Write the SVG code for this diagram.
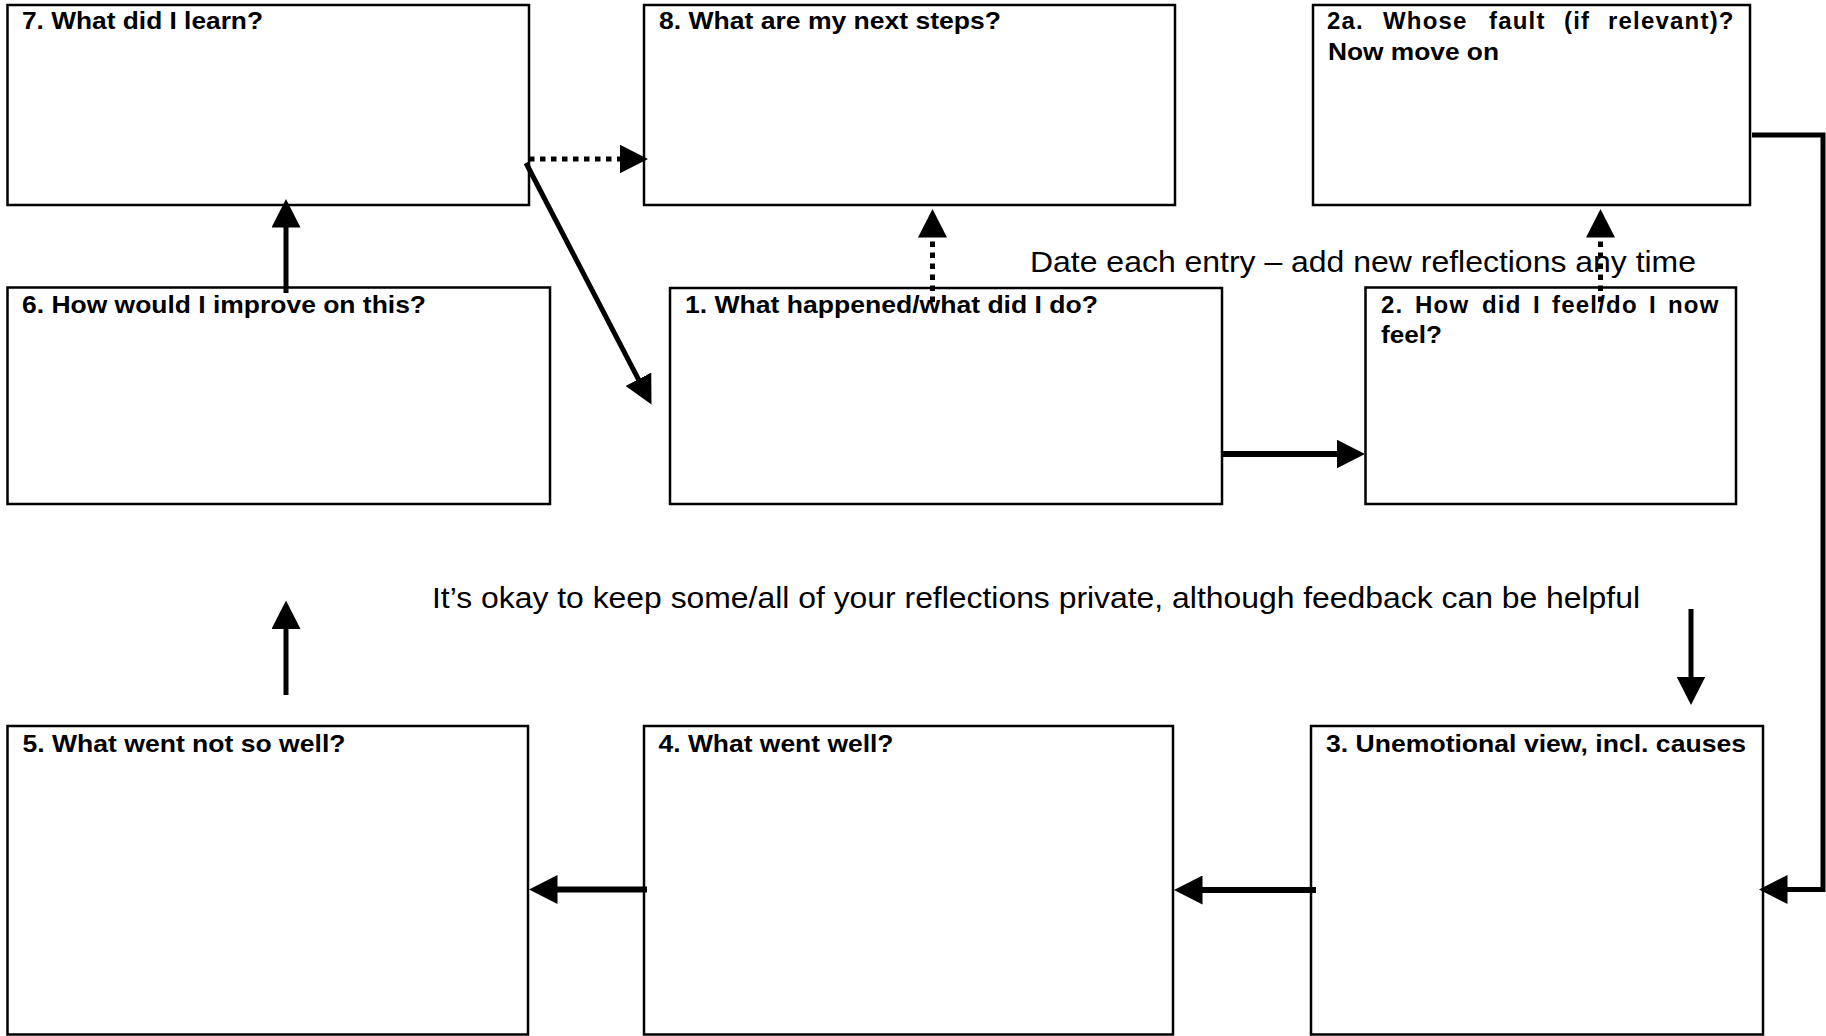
<svg xmlns="http://www.w3.org/2000/svg" width="1826" height="1036" viewBox="0 0 1826 1036">
  <style>
    .box { fill: #ffffff; stroke: #000000; stroke-width: 2.5; }
    .title { font-family: "Liberation Sans", Arial, sans-serif; font-weight: bold; font-size: 24px; fill: #000000; }
    .just { letter-spacing: 1.2px; }
    .note { font-family: "Liberation Sans", Arial, sans-serif; font-size: 29px; fill: #000000; }
    .solid { fill: none; stroke: #000000; stroke-width: 5; stroke-linejoin: miter; marker-end: url(#ah); }
    .thick { stroke-width: 6; }
    .dotted { fill: none; stroke: #000000; stroke-width: 5; stroke-dasharray: 5.5 5.5; marker-end: url(#ah); }
  </style>
  <defs>
    <marker id="ah" markerUnits="userSpaceOnUse" viewBox="0 0 29 29" markerWidth="29" markerHeight="29" refX="0.5" refY="14.5" orient="auto">
      <path d="M0,0 L28.5,14.5 L0,29 Z" fill="#000000"/>
    </marker>
  </defs>
  <rect x="0" y="0" width="1826" height="1036" fill="#ffffff"/>

  <g id="n7">
    <rect class="box" x="7.5" y="5" width="521.5" height="200"/>
    <text class="title" x="22" y="29" textLength="241" lengthAdjust="spacingAndGlyphs">7. What did I learn?</text>
  </g>
  <g id="n8">
    <rect class="box" x="644" y="5" width="531" height="200"/>
    <text class="title" x="659" y="29" textLength="342" lengthAdjust="spacingAndGlyphs">8. What are my next steps?</text>
  </g>
  <g id="n2a">
    <rect class="box" x="1313" y="5" width="437" height="200"/>
    <text class="title just" y="29"><tspan x="1327">2a.</tspan> <tspan x="1383">Whose</tspan> <tspan x="1489">fault</tspan> <tspan x="1564">(if</tspan> <tspan x="1608">relevant)?</tspan></text>
    <text class="title" x="1328" y="59.5" textLength="171" lengthAdjust="spacingAndGlyphs">Now move on</text>
  </g>
  <g id="n6">
    <rect class="box" x="7.5" y="287.5" width="542.5" height="216.5"/>
    <text class="title" x="22" y="313" textLength="404" lengthAdjust="spacingAndGlyphs">6. How would I improve on this?</text>
  </g>
  <g id="n1">
    <rect class="box" x="670" y="288" width="552" height="216"/>
    <text class="title" x="685" y="313" textLength="413" lengthAdjust="spacingAndGlyphs">1. What happened/what did I do?</text>
  </g>
  <g id="n2">
    <rect class="box" x="1365.5" y="287.5" width="370.5" height="216.5"/>
    <text class="title just" y="313"><tspan x="1381">2.</tspan> <tspan x="1415">How</tspan> <tspan x="1482">did</tspan> <tspan x="1533">I</tspan> <tspan x="1552">feel/do</tspan> <tspan x="1649">I</tspan> <tspan x="1668">now</tspan></text>
    <text class="title" x="1381" y="343" textLength="61" lengthAdjust="spacingAndGlyphs">feel?</text>
  </g>
  <g id="n5">
    <rect class="box" x="7.5" y="726" width="520.5" height="308.5"/>
    <text class="title" x="22.5" y="751.5" textLength="323" lengthAdjust="spacingAndGlyphs">5. What went not so well?</text>
  </g>
  <g id="n4">
    <rect class="box" x="644" y="726" width="529" height="308.5"/>
    <text class="title" x="658.5" y="751.5" textLength="235" lengthAdjust="spacingAndGlyphs">4. What went well?</text>
  </g>
  <g id="n3">
    <rect class="box" x="1311" y="726" width="452" height="308.5"/>
    <text class="title" x="1326" y="751.5" textLength="420" lengthAdjust="spacingAndGlyphs">3. Unemotional view, incl. causes</text>
  </g>

  <g id="notes">
    <text class="note" x="1030" y="272" textLength="666" lengthAdjust="spacingAndGlyphs">Date each entry – add new reflections any time</text>
    <text class="note" x="432" y="608" textLength="1208" lengthAdjust="spacingAndGlyphs">It’s okay to keep some/all of your reflections private, although feedback can be helpful</text>
  </g>

  <g id="connectors">
    <path class="dotted" d="M529,159 H620"/>
    <path class="solid" d="M526,163 L638.6,379.7"/>
    <path class="solid" d="M286,293 V227"/>
    <path class="dotted" d="M932.5,302 V237"/>
    <path class="solid thick" d="M1222,454 H1337"/>
    <path class="dotted" d="M1600.5,302 V237"/>
    <path class="solid" d="M1752,135 H1823 V889.5 H1787"/>
    <path class="solid" d="M1691,609 V677"/>
    <path class="solid thick" d="M1316,890 H1202"/>
    <path class="solid thick" d="M647,889.5 H557"/>
    <path class="solid" d="M286,695 V628.5"/>
  </g>
</svg>
